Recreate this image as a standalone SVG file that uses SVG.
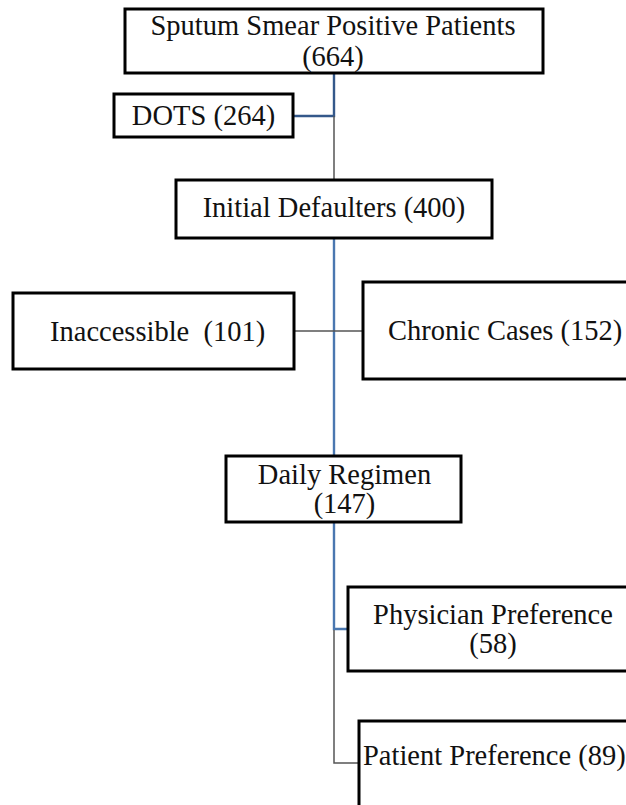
<svg xmlns="http://www.w3.org/2000/svg" width="626" height="805" viewBox="0 0 626 805">
<style>
.box{fill:#fff;stroke:#000;stroke-width:3}
.t{font-family:"Liberation Serif","Times New Roman",serif;font-size:28.5px;fill:#111}
.m{text-anchor:middle}
.blue{stroke:#34588a;stroke-width:2.4;fill:none}
.blue2{stroke:#4a77b0;stroke-width:2.4;fill:none}
.gray{stroke:#555;stroke-width:1.5;fill:none}
</style>
<rect width="626" height="805" fill="#fff"/>
<g id="connectors">
<path class="blue" d="M334 73 V116 H293"/>
<path class="gray" d="M334 116 V180"/>
<path class="blue2" d="M334 238 V456"/>
<path class="gray" d="M294 331 H363"/>
<path class="blue2" d="M334 522 V629 H348"/>
<path class="gray" d="M334 630 V763 H359"/>
</g>
<g id="n-sputum">
<rect class="box" x="125" y="9" width="418" height="64"/>
<text class="t m" x="333" y="35">Sputum Smear Positive Patients</text>
<text class="t m" x="333" y="66">(664)</text>
</g>
<g id="n-dots">
<rect class="box" x="114" y="94" width="179" height="43"/>
<text class="t m" x="203.5" y="125">DOTS (264)</text>
</g>
<g id="n-initial">
<rect class="box" x="176" y="180" width="316" height="58"/>
<text class="t m" x="334" y="217">Initial Defaulters (400)</text>
</g>
<g id="n-inaccessible">
<rect class="box" x="13" y="293" width="281" height="76"/>
<text class="t" x="50" y="341" xml:space="preserve">Inaccessible  (101)</text>
</g>
<g id="n-chronic">
<rect class="box" x="363" y="282" width="280" height="97"/>
<text class="t" x="388" y="340">Chronic Cases (152)</text>
</g>
<g id="n-daily">
<rect class="box" x="226" y="456" width="235" height="66"/>
<text class="t m" x="344.5" y="484">Daily Regimen</text>
<text class="t m" x="344.5" y="513">(147)</text>
</g>
<g id="n-physician">
<rect class="box" x="348" y="587" width="290" height="84"/>
<text class="t m" x="493" y="624">Physician Preference</text>
<text class="t m" x="493" y="653">(58)</text>
</g>
<g id="n-patient">
<rect class="box" x="359" y="721" width="290" height="100"/>
<text class="t" x="363" y="765">Patient Preference (89)</text>
</g>
</svg>
